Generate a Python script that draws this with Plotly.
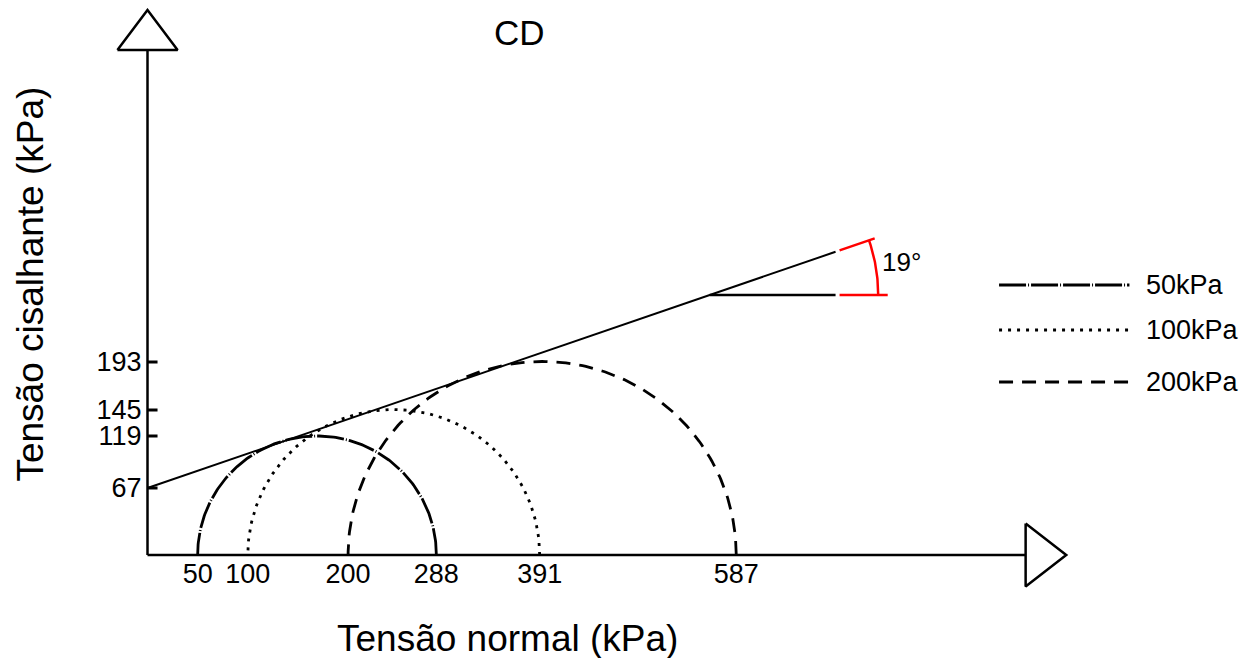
"""Envoltória de Mohr-Coulomb - ensaio CD."""

import numpy as np
import plotly.graph_objects as go

FONT = "Liberation Sans, Arial, sans-serif"
RED = "#FF0000"

# ensaios CD
sigma3 = [50, 100, 200]            # tensão confinante (kPa)
sigma1 = [288, 391, 587]           # tensão principal maior (kPa)
tau_max = [119, 145, 193]          # topo dos círculos (kPa)
labels = ["50kPa", "100kPa", "200kPa"]
dashes = ["27px,2px,1px,2px", "3px,6px", "14px,9px"]
cohesion = 67                      # kPa
phi_deg = 19                       # graus
x_ticks = [50, 100, 200, 288, 391, 587]
y_ticks = [67, 119, 145, 193]

# indicação do ângulo
y_ref = 260
x_end = 686
red_env = [690, 725]
red_hor = [690, 738]
arc_r = 168

# a página tem 8px de margem no body
W, H = 1245, 650
X0_PX, Y0_PX = 139.5, 547          # origem dos eixos na figura
SX = 1.003                         # px por kPa no eixo x

tan_phi = np.tan(np.radians(phi_deg))

fig = go.Figure()


def line(x, y, color="black", width=2.5, dash="solid", **kw):
    fig.add_trace(
        go.Scatter(
            x=x, y=y, mode="lines",
            line=dict(color=color, width=width, dash=dash),
            showlegend=False, hoverinfo="skip", **kw,
        )
    )


# círculos de Mohr (semicírculos)
for s3, s1, dash in zip(sigma3, sigma1, dashes):
    c = (s1 + s3) / 2
    r = (s1 - s3) / 2
    t = np.linspace(0, np.pi, 181)
    line(c + r * np.cos(t), r * np.sin(t), dash=dash, width=2.8)

# envoltória
xe = np.array([0, x_end])
line(xe, cohesion + tan_phi * xe, width=2)
xr = np.array(red_env)
line(xr, cohesion + tan_phi * xr, color=RED, width=2.5)

# linha horizontal + arco do ângulo
x_i = (y_ref - cohesion) / tan_phi
line([x_i, x_end], [y_ref, y_ref], width=2.5)
line(red_hor, [y_ref, y_ref], color=RED, width=2.5)
t = np.linspace(0, np.radians(phi_deg), 40)
line(x_i + arc_r * np.cos(t), y_ref + arc_r * np.sin(t), color=RED, width=2.5)

# eixos com setas
line([0, 875.5], [0, 0], width=2.5)
line([0, 0], [0, 505], width=2.5)
line([875.5, 916, 875.5, 875.5], [31.5, 0, -31.5, 31.5],
     fill="toself", fillcolor="white")
line([-30, 0, 30, -30], [505, 545, 505, 505],
     fill="toself", fillcolor="white")

# marcas do eixo y (para dentro)
for v in y_ticks:
    fig.add_shape(type="line", xref="x", yref="y", x0=0, x1=10, y0=v, y1=v,
                  line=dict(color="black", width=3), layer="above")

# legenda
leg_y = [270, 225, 173]
for lab, dash, ly in zip(labels, dashes, leg_y):
    line([849, 979], [ly, ly], dash=dash, width=2.8)
    fig.add_annotation(x=994, y=ly, text=lab, showarrow=False,
                       xanchor="left", font=dict(size=27))

fig.add_annotation(x=730, y=293, text="19°", showarrow=False,
                   xanchor="left", font=dict(size=26))
fig.add_annotation(x=371, y=523, text="CD", showarrow=False,
                   font=dict(size=35))
fig.add_annotation(x=359.4, y=-83, text="Tensão normal (kPa)",
                   showarrow=False, font=dict(size=37))
fig.add_annotation(x=-117.6, y=271, text="Tensão cisalhante (kPa)",
                   showarrow=False, textangle=-90, font=dict(size=37))

fig.update_layout(
    width=W,
    height=H,
    margin=dict(l=0, r=0, t=0, b=0),
    plot_bgcolor="white",
    paper_bgcolor="white",
    font=dict(family=FONT, color="black"),
    xaxis=dict(
        range=[-X0_PX / SX, (W - X0_PX) / SX],
        showgrid=False, zeroline=False, showline=False,
        tickvals=x_ticks, ticks="", tickfont=dict(size=27),
        anchor="free", position=(H - Y0_PX) / H,
    ),
    yaxis=dict(
        range=[-(H - Y0_PX), Y0_PX],
        showgrid=False, zeroline=False, showline=False,
        tickvals=y_ticks, ticks="", tickfont=dict(size=27),
        ticklabelstandoff=6,
        anchor="free", position=X0_PX / W,
    ),
)

fig.write_html("out.html")
